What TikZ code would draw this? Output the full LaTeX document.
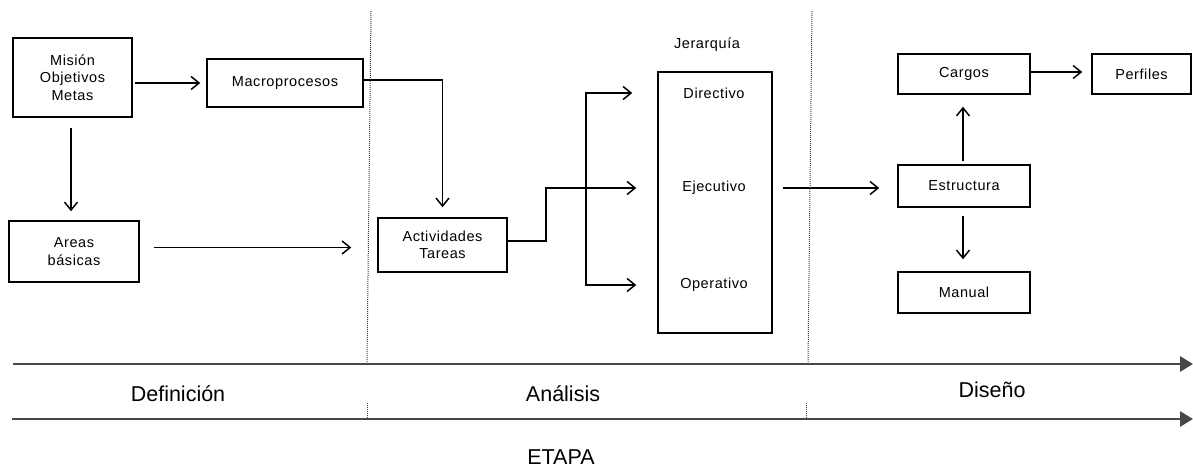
\documentclass[tikz,border=0pt]{standalone}
\usepackage{fontspec}
\setmainfont{Liberation Sans}
\newfontfamily\boxfont[LetterSpace=4]{Liberation Sans}
\usetikzlibrary{arrows.meta}
\begin{document}
\begin{tikzpicture}[x=1pt,y=-1pt,
  box/.style={draw, line width=1.5pt, inner sep=0pt, align=center,
    font=\boxfont\fontsize{14.5}{17.5}\selectfont},
  lbl/.style={inner sep=0pt, font=\boxfont\fontsize{14.5}{17.5}\selectfont},
  big/.style={inner sep=0pt, anchor=base, font=\fontsize{21.5}{24}\selectfont},
  arr/.style={line width=1.5pt, -{Straight Barb[length=8pt,width=13pt,line width=1.5pt]}},
  timeline/.style={line width=2.8pt, draw={black!72}, -{Triangle[length=13pt,width=15pt]}},
  sep/.style={line width=1pt, draw={black!75}, dash pattern=on 1pt off 1pt}]
\useasboundingbox (0,0) rectangle (1193,468);

% boxes
\node[box, minimum width=119pt, minimum height=79pt] (mision) at (72.5,77.5) {Misión\\Objetivos\\Metas};
\node[box, minimum width=156pt, minimum height=48pt] (macro) at (285,83) {Macroprocesos};
\node[box, minimum width=130pt, minimum height=61pt] (areas) at (74,251.5) {Areas\\básicas};
\node[box, minimum width=129pt, minimum height=54pt] (activ) at (442.5,245) {Actividades\\Tareas};
\node[box, minimum width=114pt, minimum height=261pt] (jer) at (715,202.5) {};
\node[lbl] (jlab) at (707,45) {Jerarquía};
\node[lbl] (dir) at (714,93) {Directivo};
\node[lbl] (ejec) at (714,188) {Ejecutivo};
\node[lbl] (oper) at (714,285) {Operativo};
\node[box, minimum width=132pt, minimum height=40pt] (cargos) at (964,74) {Cargos};
\node[box, minimum width=99pt, minimum height=40pt] (perf) at (1141.5,74) {Perfiles};
\node[box, minimum width=132pt, minimum height=42pt] (estr) at (964,186) {Estructura};
\node[box, minimum width=132pt, minimum height=41pt] (manual) at (964,292.5) {Manual};

% connectors
\draw[arr] ([xshift=2pt]mision.east |- macro) -- ([xshift=-6pt]macro.west);
\draw[arr] ([xshift=-1.5pt,yshift=-10pt]mision.south) -- ([xshift=-1.5pt,yshift=9pt]mision.south |- areas.north);
\draw[arr] ([xshift=14pt,yshift=4pt]areas.east) -- ([xshift=-26pt,yshift=4pt]activ.west |- areas.east);
\draw[arr] ([yshift=3pt]macro.east) -| ([yshift=10pt]activ.north);
\coordinate (k1) at (546,241);
\draw[arr] (activ.east |- k1) -- (k1) |- ([xshift=-21pt]jer.west |- ejec);
\coordinate (bv) at (586,189);
\draw[arr] (bv) |- ([xshift=-25pt]jer.west |- dir);
\draw[arr] (bv) |- ([xshift=-21pt]jer.west |- oper);
\draw[arr] ([xshift=10pt]jer.east |- ejec) -- ([xshift=-18pt]estr.west |- ejec);
\draw[arr] ([xshift=-1pt,yshift=3pt]estr.north) -- ([xshift=-1pt,yshift=-12pt]cargos.south);
\draw[arr] ([xshift=-1pt,yshift=-8pt]estr.south) -- ([xshift=-1pt,yshift=12pt]manual.north);
\draw[arr] ([yshift=2pt]cargos.east) -- ([xshift=-9pt,yshift=2pt]perf.west);

% separators
\draw[sep] (371,11) -- (367,364);
\draw[sep] (812,11) -- (808,364);
\draw[sep] (367,403) -- (367,419);
\draw[sep] (806,403) -- (806,419);

% timelines
\coordinate (t1s) at (13,364);
\coordinate (t1e) at (1193,364);
\coordinate (t2s) at (12,419);
\coordinate (t2e) at (1193,419);
\draw[timeline] (t1s) -- (t1e);
\draw[timeline] (t2s) -- (t2e);

% labels
\node[big] (def) at (178,401) {Definición};
\node[big] (ana) at (563,401) {Análisis};
\node[big] (dis) at (992,397) {Diseño};
\node[big] (etapa) at (561,464) {ETAPA};
\end{tikzpicture}
\end{document}
